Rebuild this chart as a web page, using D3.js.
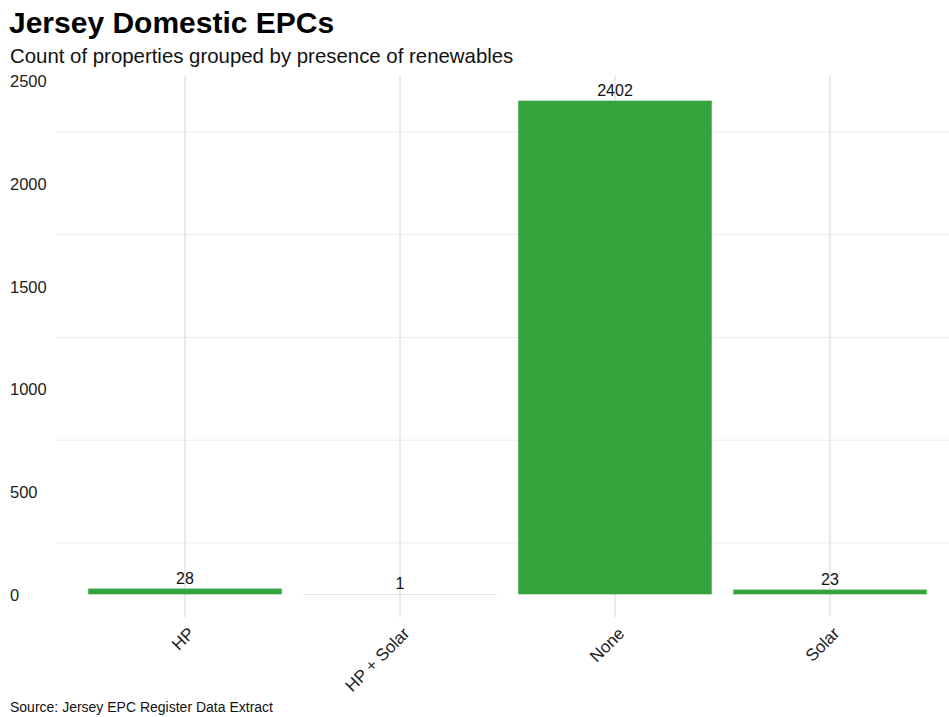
<!DOCTYPE html>
<html>
<head>
<meta charset="utf-8">
<script src="https://cdn.jsdelivr.net/npm/d3@7"></script>
<style>
  body { margin: 0; background: #fff; }
  svg { display: block; font-family: "Liberation Sans", Arial, Helvetica, sans-serif; }
</style>
</head>
<body>
<svg id="chart" width="949" height="717"></svg>
<script>
// Renewables groups and property counts
const categories = ["HP", "HP + Solar", "None", "Solar"];
const counts = [28, 1, 2402, 23];
const yTicks = [0, 500, 1000, 1500, 2000, 2500];
const yMinorTicks = [250, 750, 1250, 1750, 2250];

const W = 949, H = 717;
const panel = { left: 56, right: 959, top: 76, bottom: 619 };

const svg = d3.select("#chart");

// Discrete x scale: 0.6 step of space from edge to first/last centre, bars 0.9 wide
const x = d3.scaleBand()
  .domain(categories)
  .range([panel.left, panel.right])
  .paddingInner(0.1)
  .paddingOuter(0.15);

const yMax = d3.max(counts);
const y = d3.scaleLinear()
  .domain([-yMax * 0.05, yMax * 1.05])
  .range([panel.bottom, panel.top]);

// Minor horizontal gridlines
svg.append("g")
  .selectAll("line")
  .data(yMinorTicks)
  .join("line")
  .attr("x1", panel.left)
  .attr("x2", W)
  .attr("y1", d => y(d))
  .attr("y2", d => y(d))
  .attr("stroke", "#ebebeb")
  .attr("stroke-width", 1);

// Vertical gridlines at category centres
svg.append("g")
  .selectAll("line")
  .data(categories)
  .join("line")
  .attr("x1", d => x(d) + x.bandwidth() / 2)
  .attr("x2", d => x(d) + x.bandwidth() / 2)
  .attr("y1", panel.top)
  .attr("y2", panel.bottom - 2)
  .attr("stroke", "#d6d6d6")
  .attr("stroke-width", 1);

// Bars
svg.append("g")
  .selectAll("rect")
  .data(categories.map((c, i) => ({ c, v: counts[i] })))
  .join("rect")
  .attr("x", d => x(d.c))
  .attr("width", x.bandwidth())
  .attr("y", d => y(d.v))
  .attr("height", d => y(0) - y(d.v))
  .attr("fill", "#34a43d");

// Value labels
svg.append("g")
  .selectAll("text")
  .data(categories.map((c, i) => ({ c, v: counts[i] })))
  .join("text")
  .attr("x", d => x(d.c) + x.bandwidth() / 2)
  .attr("y", d => y(d.v) - 5)
  .attr("text-anchor", "middle")
  .attr("font-size", 16)
  .attr("fill", "#111")
  .text(d => d.v);

// Y axis labels
const yAxis = d3.axisLeft(y).tickValues(yTicks).tickFormat(d3.format("d")).tickSize(0).tickPadding(0);
const gy = svg.append("g")
  .attr("transform", "translate(10,0)")
  .call(yAxis);
gy.select(".domain").remove();
gy.selectAll("text")
  .attr("text-anchor", "start")
  .attr("font-size", 16.5)
  .attr("font-family", "Liberation Sans, Arial, sans-serif")
  .attr("fill", "#222")
  .attr("dy", "0.36em");

// X axis labels, rotated
const xAxis = d3.axisBottom(x).tickSize(0).tickPadding(0);
const gx = svg.append("g")
  .attr("transform", `translate(0,${panel.bottom + 7})`)
  .call(xAxis);
gx.select(".domain").remove();
gx.selectAll("text")
  .attr("font-size", 17)
  .attr("font-family", "Liberation Sans, Arial, sans-serif")
  .attr("fill", "#222")
  .attr("text-anchor", "end")
  .attr("dy", "0.71em")
  .attr("transform", "translate(2,0) rotate(-45)");

// Title, subtitle, caption
svg.append("text")
  .attr("x", 9).attr("y", 33)
  .attr("font-size", 30).attr("font-weight", "bold").attr("fill", "#000")
  .text("Jersey Domestic EPCs");
svg.append("text")
  .attr("x", 10).attr("y", 63)
  .attr("font-size", 20.4).attr("fill", "#111")
  .text("Count of properties grouped by presence of renewables");
svg.append("text")
  .attr("x", 10).attr("y", 712)
  .attr("font-size", 14).attr("fill", "#111")
  .text("Source: Jersey EPC Register Data Extract");
</script>
</body>
</html>
